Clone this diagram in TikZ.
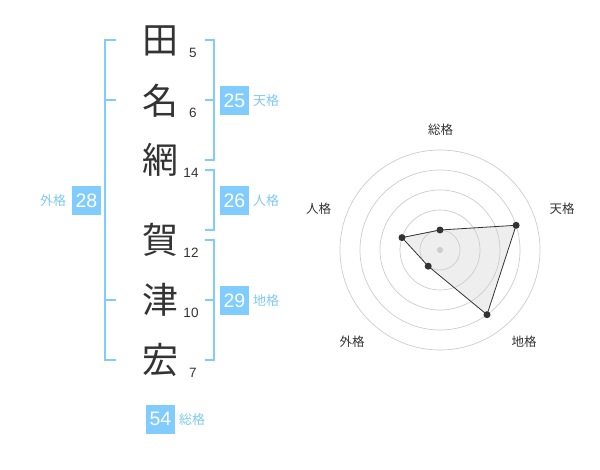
\documentclass[tikz,border=0pt]{standalone}
\usepackage{fontspec}
\setmainfont{Liberation Sans}
\newfontfamily\cjk{Noto Sans CJK JP}
\definecolor{sky}{HTML}{80CCFF}
\definecolor{skytext}{HTML}{80C8F2}
\definecolor{ink}{HTML}{333333}
\definecolor{ring}{HTML}{CCCCCC}
\definecolor{area}{HTML}{EEEEEE}
\tikzset{
  kanji/.style={font=\cjk\fontsize{36}{36}\selectfont, text=ink, inner sep=0pt},
  strokes/.style={font=\fontsize{13.5}{13.5}\selectfont, text=ink, inner sep=0pt},
  br/.style={draw=sky, line width=2pt},
  numbox/.style={fill=sky, minimum size=29pt, inner sep=0pt, text=white, font=\fontsize{19.5}{19.5}\selectfont},
  kaku/.style={font=\cjk\fontsize{13}{13}\selectfont, text=skytext, inner sep=0pt},
  rlabel/.style={font=\cjk\fontsize{12.5}{12.5}\selectfont, text=ink, inner sep=0pt},
  ringline/.style={draw=ring, line width=0.7pt},
  dot/.style={circle, fill=ink, minimum size=7pt, inner sep=0pt},
}
\begin{document}
\begin{tikzpicture}[x=1pt,y=-1pt]
\useasboundingbox (0,0) rectangle (600,470);
% name characters
\node[kanji] (k1) at (160,41) {田};
\node[kanji] (k2) at (160,101) {名};
\node[kanji] (k3) at (160,160) {網};
\node[kanji] (k4) at (160,240) {賀};
\node[kanji] (k5) at (160,300) {津};
\node[kanji] (k6) at (160,360) {宏};
% stroke counts
\node[strokes] (s1) at (193,52.5) {5};
\node[strokes] (s2) at (193,113) {6};
\node[strokes] (s3) at (191,173) {14};
\node[strokes] (s4) at (191,253) {12};
\node[strokes] (s5) at (191,313) {10};
\node[strokes] (s6) at (193,373) {7};
% brackets
\draw[br] (116,40) -- (105,40) -- (105,360) -- (116,360);
\draw[br] (105,100) -- (116,100);
\draw[br] (105,300) -- (116,300);
\draw[br] (205,40) -- (214,40) -- (214,160) -- (205,160);
\draw[br] (214,100) -- (205,100);
\draw[br] (205,170) -- (214,170) -- (214,230) -- (205,230);
\draw[br] (205,240) -- (214,240) -- (214,360) -- (205,360);
\draw[br] (214,300) -- (205,300);
% number boxes
\node[numbox] (b25) at (234.5,100.5) {25};
\node[kaku] (l25) at (266,101) {天格};
\node[numbox] (b26) at (234.5,200.5) {26};
\node[kaku] (l26) at (266,201) {人格};
\node[numbox] (b28) at (86.5,200.5) {28};
\node[kaku] (l28) at (53,201) {外格};
\node[numbox] (b29) at (234.5,300.5) {29};
\node[kaku] (l29) at (266,301) {地格};
\node[numbox] (b54) at (160.5,419) {54};
\node[kaku] (l54) at (192,420) {総格};
% radar chart
\coordinate (c) at (440,250);
\coordinate (p1) at (440,230);
\coordinate (p2) at (516.1,225.3);
\coordinate (p3) at (487.0,314.7);
\coordinate (p4) at (428.2,266.2);
\coordinate (p5) at (402.0,237.6);
\fill[area] (p1) -- (p2) -- (p3) -- (p4) -- (p5) -- cycle;
\foreach \r in {20,40,60,80,100} \draw[ringline] (c) circle[radius=\r];
\draw[ink, line width=0.8pt] (p1) -- (p2) -- (p3) -- (p4) -- (p5) -- cycle;
\node[circle, fill=ring, minimum size=6pt, inner sep=0pt] (cd) at (c) {};
\foreach \p in {p1,p2,p3,p4,p5} \node[dot] (d\p) at (\p) {};
\node[rlabel] (r1) at (440.5,130) {総格};
\node[rlabel] (r2) at (562,208.5) {天格};
\node[rlabel] (r3) at (318.5,208.5) {人格};
\node[rlabel] (r4) at (352,342) {外格};
\node[rlabel] (r5) at (524,342) {地格};
\end{tikzpicture}
\end{document}
